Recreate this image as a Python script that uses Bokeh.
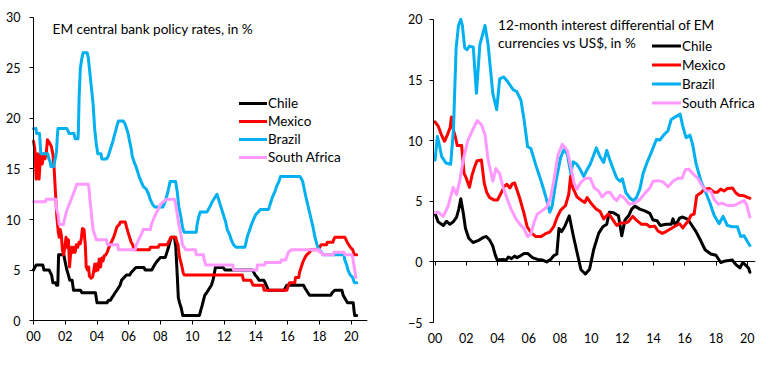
from bokeh.plotting import figure
from bokeh.models import (Range1d, FixedTicker, LinearAxis, Legend, LegendItem, Label)
from bokeh.layouts import row
from bokeh.embed import file_html
from bokeh.resources import INLINE

FONT = "Lato"

# ---------------- data ----------------
series_names = ["Chile", "Mexico", "Brazil", "South Africa"]
series_colors = ["#000000", "#FF0000", "#00B0F0", "#FF99FF"]

x_ticks = [2000, 2002, 2004, 2006, 2008, 2010, 2012, 2014, 2016, 2018, 2020]
x_tick_labels = ["00", "02", "04", "06", "08", "10", "12", "14", "16", "18", "20"]
left_y_ticks = [0, 5, 10, 15, 20, 25, 30]
right_y_ticks = [-5, 0, 5, 10, 15, 20]

left_title = "EM central bank policy rates, in %"
right_title_lines = ["12-month interest differential of EM", "currencies vs US$, in %"]

# Policy rates (year, %)
chile_policy = [
    (2000.00, 5.0), (2000.08, 5.25), (2000.17, 5.5), (2000.58, 5.5), (2000.66, 5.0), (2000.98, 5.0),
    (2001.06, 4.75), (2001.14, 4.5), (2001.22, 3.75), (2001.38, 3.75), (2001.45, 3.5), (2001.53, 3.5),
    (2001.58, 6.5), (2001.91, 6.5), (2002.0, 5.75), (2002.1, 5.0), (2002.2, 4.5), (2002.28, 4.0),
    (2002.43, 4.0), (2002.52, 3.0), (2002.96, 3.0), (2003.05, 2.75), (2003.9, 2.75), (2004.0, 1.75),
    (2004.62, 1.75), (2004.72, 2.0), (2004.85, 2.0), (2004.93, 2.25), (2005.04, 2.5), (2005.14, 2.75),
    (2005.25, 3.0), (2005.35, 3.25), (2005.45, 3.5), (2005.55, 4.0), (2005.7, 4.25), (2005.85, 4.5),
    (2006.05, 4.5), (2006.15, 4.75), (2006.3, 5.0), (2006.45, 5.25), (2006.95, 5.25), (2007.03, 5.0),
    (2007.45, 5.0), (2007.53, 5.25), (2007.62, 5.5), (2007.72, 5.75), (2007.85, 6.0), (2008.0, 6.25),
    (2008.3, 6.25), (2008.4, 6.75), (2008.5, 7.25), (2008.58, 7.75), (2008.68, 8.25), (2008.88, 8.25),
    (2008.96, 7.25), (2009.05, 4.5), (2009.12, 2.25), (2009.2, 1.75), (2009.3, 1.25), (2009.4, 0.5),
    (2010.45, 0.5), (2010.53, 1.0), (2010.62, 1.5), (2010.7, 2.0), (2010.78, 2.5), (2010.9, 2.75),
    (2011.0, 3.0), (2011.1, 3.25), (2011.2, 3.5), (2011.3, 4.0), (2011.37, 4.5), (2011.45, 5.25),
    (2011.95, 5.25), (2012.05, 5.0), (2013.8, 5.0), (2013.88, 4.75), (2013.96, 4.5), (2014.1, 4.25),
    (2014.2, 4.0), (2014.5, 4.0), (2014.58, 3.75), (2014.65, 3.5), (2014.72, 3.25), (2014.8, 3.0),
    (2015.78, 3.0), (2015.86, 3.25), (2015.95, 3.5), (2017.0, 3.5), (2017.08, 3.25), (2017.18, 3.0),
    (2017.28, 2.75), (2017.38, 2.5), (2018.72, 2.5), (2018.8, 2.75), (2018.98, 3.0), (2019.42, 3.0),
    (2019.5, 2.5), (2019.68, 2.0), (2019.77, 1.75), (2020.13, 1.75), (2020.18, 1.0), (2020.22, 0.5),
    (2020.35, 0.5),
]
mexico_policy = [
    (2000.0, 17.75), (2000.08, 17.0), (2000.17, 14.0), (2000.26, 16.5), (2000.35, 14.0), (2000.45, 16.5),
    (2000.55, 15.5), (2000.63, 16.5), (2000.72, 16.0), (2000.8, 16.5), (2000.88, 17.9), (2001.0, 17.6),
    (2001.12, 17.25), (2001.22, 16.5), (2001.3, 15.0), (2001.38, 12.75), (2001.47, 10.25), (2001.56, 8.75),
    (2001.62, 8.25), (2001.68, 9.0), (2001.75, 8.5), (2001.82, 7.0), (2001.9, 6.5), (2001.97, 7.25),
    (2002.05, 8.25), (2002.12, 7.25), (2002.2, 8.0), (2002.27, 5.3), (2002.33, 6.5), (2002.4, 7.25),
    (2002.48, 6.75), (2002.55, 7.25), (2002.62, 6.75), (2002.7, 7.5), (2002.78, 7.25), (2002.87, 7.75),
    (2002.95, 7.6), (2003.02, 8.25), (2003.08, 9.1), (2003.18, 9.0), (2003.26, 7.5), (2003.32, 5.3),
    (2003.4, 5.0), (2003.47, 5.3), (2003.52, 4.4), (2003.62, 4.2), (2003.72, 4.3), (2003.8, 5.0),
    (2003.86, 5.6), (2003.92, 4.9), (2004.0, 5.6), (2004.06, 5.0), (2004.14, 6.1), (2004.22, 5.3),
    (2004.3, 6.2), (2004.38, 5.9), (2004.45, 6.4), (2004.55, 6.5), (2004.65, 6.8), (2004.75, 7.25),
    (2004.9, 7.75), (2005.05, 8.25), (2005.15, 8.75), (2005.25, 9.25), (2005.4, 9.5), (2005.47, 9.75),
    (2005.78, 9.75), (2005.86, 9.25), (2005.95, 8.75), (2006.05, 8.25), (2006.15, 7.75), (2006.25, 7.5),
    (2006.33, 7.0), (2007.3, 7.0), (2007.36, 7.25), (2007.85, 7.25), (2007.92, 7.5), (2008.42, 7.5),
    (2008.5, 7.75), (2008.58, 8.0), (2008.65, 8.25), (2008.95, 8.25), (2009.03, 7.75), (2009.1, 7.5),
    (2009.15, 6.75), (2009.2, 6.25), (2009.28, 5.75), (2009.36, 5.25), (2009.42, 4.75), (2009.5, 4.5),
    (2013.15, 4.5), (2013.22, 4.0), (2013.68, 4.0), (2013.75, 3.75), (2013.82, 3.5), (2014.45, 3.5),
    (2014.52, 3.0), (2015.95, 3.0), (2016.0, 3.25), (2016.12, 3.75), (2016.45, 3.75), (2016.5, 4.25),
    (2016.7, 4.25), (2016.75, 4.75), (2016.85, 5.25), (2016.95, 5.75), (2017.1, 6.25), (2017.2, 6.5),
    (2017.38, 6.75), (2017.45, 7.0), (2017.95, 7.0), (2018.0, 7.25), (2018.12, 7.5), (2018.45, 7.5),
    (2018.5, 7.75), (2018.85, 7.75), (2018.9, 8.0), (2018.98, 8.25), (2019.6, 8.25), (2019.68, 8.0),
    (2019.75, 7.75), (2019.85, 7.5), (2019.95, 7.25), (2020.1, 7.0), (2020.2, 6.5), (2020.35, 6.5),
]
brazil_policy = [
    (2000.0, 19.0), (2000.15, 19.0), (2000.2, 18.5), (2000.38, 18.5), (2000.42, 17.5), (2000.46, 16.5),
    (2000.9, 16.5), (2000.97, 16.0), (2001.04, 15.75), (2001.1, 15.25), (2001.28, 15.25), (2001.33, 15.75),
    (2001.4, 16.25), (2001.45, 16.75), (2001.5, 18.25), (2001.54, 19.0), (2002.1, 19.0), (2002.18, 18.75),
    (2002.25, 18.5), (2002.55, 18.5), (2002.62, 18.0), (2002.8, 18.0), (2002.83, 19.0), (2002.87, 22.0),
    (2002.95, 25.0), (2003.05, 26.0), (2003.12, 26.5), (2003.38, 26.5), (2003.45, 26.0), (2003.6, 23.75),
    (2003.75, 21.5), (2003.85, 19.0), (2003.95, 17.5), (2004.05, 16.5), (2004.25, 16.5), (2004.3, 16.0),
    (2004.6, 16.0), (2004.7, 16.25), (2004.8, 16.75), (2004.9, 17.25), (2005.0, 17.75), (2005.08, 18.25),
    (2005.17, 18.75), (2005.25, 19.25), (2005.35, 19.75), (2005.65, 19.75), (2005.75, 19.5), (2005.86, 19.0),
    (2005.96, 18.5), (2006.05, 17.75), (2006.15, 17.0), (2006.22, 16.25), (2006.32, 15.75), (2006.45, 15.25),
    (2006.55, 14.75), (2006.65, 14.25), (2006.78, 13.75), (2006.92, 13.25), (2007.1, 13.0), (2007.25, 12.5),
    (2007.35, 12.0), (2007.5, 11.5), (2007.62, 11.25), (2008.15, 11.25), (2008.28, 11.75), (2008.38, 12.25),
    (2008.5, 13.0), (2008.6, 13.75), (2008.95, 13.75), (2009.05, 12.75), (2009.15, 11.25), (2009.28, 10.25),
    (2009.38, 9.25), (2009.48, 8.75), (2010.25, 8.75), (2010.3, 9.5), (2010.4, 10.25), (2010.5, 10.75),
    (2010.92, 10.75), (2011.1, 11.25), (2011.25, 11.75), (2011.35, 12.0), (2011.45, 12.25), (2011.55, 12.5),
    (2011.65, 12.0), (2011.75, 11.5), (2011.85, 11.0), (2011.95, 10.5), (2012.1, 9.75), (2012.2, 9.0),
    (2012.35, 8.5), (2012.45, 8.0), (2012.6, 7.5), (2012.75, 7.25), (2013.3, 7.25), (2013.35, 7.5),
    (2013.42, 8.0), (2013.5, 8.5), (2013.62, 9.0), (2013.72, 9.5), (2013.85, 10.0), (2014.0, 10.5),
    (2014.15, 10.75), (2014.3, 11.0), (2014.8, 11.0), (2014.85, 11.25), (2014.95, 11.75), (2015.05, 12.25),
    (2015.2, 12.75), (2015.3, 13.25), (2015.45, 13.75), (2015.55, 14.25), (2016.78, 14.25), (2016.88, 14.0),
    (2016.95, 13.75), (2017.05, 13.0), (2017.15, 12.25), (2017.3, 11.25), (2017.45, 10.25), (2017.6, 9.25),
    (2017.72, 8.25), (2017.85, 7.5), (2017.97, 7.0), (2018.15, 6.75), (2018.22, 6.5), (2019.55, 6.5),
    (2019.6, 6.0), (2019.72, 5.5), (2019.8, 5.0), (2019.95, 4.5), (2020.1, 4.25), (2020.2, 3.75),
    (2020.35, 3.75),
]
southafrica_policy = [
    (2000.0, 11.75), (2000.75, 11.75), (2000.8, 12.0), (2001.4, 12.0), (2001.46, 11.0), (2001.55, 10.5),
    (2001.62, 9.5), (2001.88, 9.5), (2001.95, 10.0), (2002.03, 10.5), (2002.12, 11.0), (2002.25, 11.5),
    (2002.38, 12.0), (2002.5, 12.5), (2002.62, 13.0), (2002.72, 13.5), (2003.45, 13.5), (2003.5, 13.0),
    (2003.55, 12.0), (2003.62, 11.0), (2003.68, 10.0), (2003.75, 9.0), (2003.85, 8.5), (2003.95, 8.0),
    (2004.6, 8.0), (2004.65, 7.5), (2005.3, 7.5), (2005.35, 7.0), (2006.4, 7.0), (2006.48, 7.5),
    (2006.62, 8.0), (2006.78, 8.5), (2006.9, 9.0), (2007.35, 9.0), (2007.42, 9.5), (2007.55, 10.0),
    (2007.68, 10.5), (2007.85, 11.0), (2008.0, 11.5), (2008.35, 12.0), (2008.88, 12.0), (2008.95, 11.5),
    (2009.05, 10.5), (2009.15, 9.5), (2009.28, 8.5), (2009.38, 7.5), (2009.6, 7.0), (2010.2, 7.0),
    (2010.25, 6.5), (2010.7, 6.5), (2010.75, 6.0), (2010.85, 5.5), (2012.55, 5.5), (2012.6, 5.0),
    (2014.05, 5.0), (2014.1, 5.5), (2014.55, 5.5), (2014.6, 5.75), (2015.55, 5.75), (2015.6, 6.0),
    (2015.88, 6.0), (2015.93, 6.25), (2016.05, 6.75), (2016.22, 7.0), (2017.97, 7.0), (2018.03, 6.75),
    (2018.15, 6.75), (2018.2, 6.5), (2018.88, 6.5), (2018.92, 6.75), (2019.55, 6.75), (2019.6, 6.5),
    (2020.05, 6.5), (2020.1, 6.25), (2020.2, 5.25), (2020.3, 4.25),
]

# 12-month interest differential vs US$ (year, %)
chile_diff = [
    (2000.0, 4.0), (2000.2, 3.3), (2000.53, 3.0), (2000.74, 3.35), (2000.95, 3.1), (2001.16, 3.3),
    (2001.38, 3.7), (2001.52, 4.35), (2001.65, 5.2), (2001.8, 4.1), (2001.95, 2.75), (2002.16, 1.95),
    (2002.43, 1.6), (2002.75, 1.75), (2003.07, 2.0), (2003.28, 2.1), (2003.5, 1.8), (2003.7, 1.3),
    (2003.85, 0.6), (2003.98, 0.15), (2004.34, 0.2), (2004.55, 0.15), (2004.7, 0.4), (2004.9, 0.27),
    (2005.1, 0.48), (2005.25, 0.35), (2005.4, 0.45), (2005.7, 0.7), (2005.93, 0.7), (2006.24, 0.35),
    (2006.56, 0.2), (2006.88, 0.15), (2007.15, 0.0), (2007.4, 0.2), (2007.6, 0.5), (2007.8, 0.65),
    (2007.94, 2.75), (2008.1, 2.5), (2008.3, 2.9), (2008.6, 3.8), (2008.85, 2.2), (2009.1, 0.75),
    (2009.35, -0.65), (2009.63, -1.0), (2009.9, -0.6), (2010.16, 1.0), (2010.48, 2.35), (2010.75, 2.9),
    (2011.0, 3.1), (2011.17, 4.1), (2011.43, 4.05), (2011.75, 3.8), (2011.96, 2.15), (2012.17, 3.45),
    (2012.4, 3.8), (2012.6, 4.35), (2012.8, 4.6), (2013.12, 4.35), (2013.44, 4.2), (2013.76, 4.0),
    (2013.97, 3.45), (2014.22, 3.4), (2014.43, 3.0), (2014.8, 3.1), (2015.13, 3.1), (2015.24, 3.55),
    (2015.4, 3.0), (2015.66, 3.6), (2015.87, 3.7), (2016.2, 3.5), (2016.46, 3.0), (2016.72, 2.5),
    (2017.04, 1.7), (2017.3, 1.0), (2017.67, 0.65), (2018.0, 0.55), (2018.3, -0.05), (2018.6, 0.08),
    (2019.05, 0.15), (2019.26, -0.2), (2019.53, -0.5), (2019.72, -0.05), (2019.93, -0.3), (2020.1, -0.55),
    (2020.17, -0.85),
]
mexico_diff = [
    (2000.0, 11.55), (2000.2, 11.2), (2000.4, 10.5), (2000.6, 9.95), (2000.8, 10.5), (2000.97, 11.1),
    (2001.05, 11.95), (2001.15, 11.0), (2001.3, 10.3), (2001.42, 9.6), (2001.7, 9.6), (2001.86, 7.3),
    (2002.0, 6.9), (2002.2, 6.15), (2002.38, 7.2), (2002.55, 7.9), (2002.7, 8.35), (2002.97, 8.4),
    (2003.15, 6.5), (2003.32, 5.7), (2003.5, 5.3), (2003.8, 5.1), (2004.0, 5.1), (2004.2, 5.6),
    (2004.45, 6.25), (2004.6, 6.4), (2004.8, 6.1), (2004.95, 6.45), (2005.1, 6.5), (2005.4, 5.35),
    (2005.7, 4.0), (2005.9, 2.9), (2006.16, 2.4), (2006.44, 2.1), (2006.8, 2.1), (2007.1, 2.35),
    (2007.35, 2.45), (2007.6, 2.9), (2007.83, 3.7), (2008.04, 4.25), (2008.36, 4.65), (2008.57, 5.6),
    (2008.68, 7.05), (2008.83, 6.1), (2009.1, 5.35), (2009.4, 5.05), (2009.6, 4.9), (2009.74, 5.3),
    (2010.05, 4.75), (2010.33, 4.35), (2010.58, 4.15), (2010.8, 3.55), (2011.1, 3.95), (2011.2, 3.85),
    (2011.43, 3.4), (2011.64, 3.0), (2011.85, 3.2), (2012.17, 3.2), (2012.38, 3.3), (2012.66, 3.75),
    (2012.9, 3.45), (2013.23, 3.1), (2013.55, 3.1), (2013.76, 2.9), (2014.07, 2.95), (2014.28, 2.55),
    (2014.56, 2.35), (2014.8, 2.5), (2015.13, 2.75), (2015.45, 3.0), (2015.66, 3.15), (2015.87, 2.8),
    (2016.2, 3.35), (2016.4, 3.85), (2016.6, 3.95), (2016.76, 5.45), (2017.04, 5.7), (2017.25, 6.0),
    (2017.57, 6.05), (2017.88, 5.75), (2018.1, 5.75), (2018.3, 6.0), (2018.52, 5.85), (2018.73, 6.05),
    (2019.05, 6.1), (2019.26, 5.7), (2019.47, 5.5), (2019.8, 5.45), (2020.06, 5.3), (2020.17, 5.25),
]
brazil_diff = [
    (2000.0, 8.4), (2000.15, 10.35), (2000.3, 9.5), (2000.42, 8.7), (2000.7, 8.15), (2001.0, 8.05),
    (2001.18, 10.95), (2001.35, 17.65), (2001.5, 19.5), (2001.65, 20.0), (2001.75, 19.5), (2001.9, 17.65),
    (2002.05, 17.5), (2002.2, 17.8), (2002.45, 17.7), (2002.65, 13.9), (2002.87, 17.9), (2003.2, 19.5),
    (2003.4, 17.9), (2003.7, 13.9), (2003.95, 12.55), (2004.14, 15.1), (2004.4, 15.25), (2004.66, 14.85),
    (2005.0, 14.2), (2005.23, 14.05), (2005.5, 13.35), (2005.7, 11.75), (2005.93, 9.5), (2006.14, 9.35),
    (2006.45, 8.0), (2006.8, 6.65), (2007.1, 5.35), (2007.35, 4.1), (2007.5, 4.6), (2007.75, 6.65),
    (2008.04, 8.6), (2008.25, 9.25), (2008.47, 8.9), (2008.7, 7.3), (2008.85, 8.25), (2009.05, 8.1),
    (2009.27, 7.7), (2009.52, 7.05), (2009.74, 7.6), (2009.95, 8.1), (2010.16, 8.8), (2010.33, 9.4),
    (2010.58, 8.65), (2010.8, 8.2), (2011.0, 9.2), (2011.2, 8.4), (2011.43, 7.6), (2011.64, 6.9),
    (2011.85, 6.65), (2012.0, 6.85), (2012.23, 5.7), (2012.5, 5.25), (2012.7, 5.05), (2012.9, 5.3),
    (2013.12, 6.0), (2013.33, 7.3), (2013.6, 8.25), (2013.86, 9.05), (2014.18, 10.1), (2014.4, 10.05),
    (2014.67, 10.5), (2014.92, 10.8), (2015.13, 11.75), (2015.45, 12.0), (2015.7, 12.2), (2015.87, 11.2),
    (2016.08, 10.25), (2016.33, 10.45), (2016.5, 9.7), (2016.72, 8.1), (2017.04, 6.65), (2017.35, 5.7),
    (2017.6, 4.9), (2017.88, 3.85), (2018.2, 3.15), (2018.45, 3.75), (2018.73, 3.0), (2019.05, 2.9),
    (2019.37, 2.9), (2019.58, 2.1), (2019.8, 2.15), (2020.0, 1.7), (2020.17, 1.35),
]
southafrica_diff = [
    (2000.0, 4.05), (2000.2, 4.1), (2000.53, 3.75), (2000.85, 4.65), (2001.16, 6.15), (2001.38, 5.55),
    (2001.6, 6.8), (2001.8, 8.4), (2002.1, 10.0), (2002.43, 10.95), (2002.7, 11.65), (2002.96, 11.35),
    (2003.2, 10.5), (2003.4, 8.4), (2003.7, 6.65), (2003.9, 7.7), (2004.13, 7.3), (2004.34, 6.25),
    (2004.55, 5.45), (2004.87, 4.35), (2005.2, 3.5), (2005.5, 3.0), (2005.7, 2.75), (2005.93, 2.1),
    (2006.14, 2.3), (2006.35, 3.3), (2006.56, 3.95), (2006.88, 4.25), (2007.15, 4.5), (2007.4, 5.3),
    (2007.6, 6.65), (2007.87, 8.8), (2008.15, 9.7), (2008.47, 9.2), (2008.7, 7.85), (2008.9, 6.5),
    (2009.1, 6.0), (2009.3, 6.5), (2009.63, 6.9), (2009.95, 6.9), (2010.2, 6.1), (2010.48, 5.85),
    (2010.7, 5.35), (2010.96, 5.7), (2011.2, 5.75), (2011.43, 5.3), (2011.64, 5.05), (2011.85, 5.5),
    (2012.1, 5.3), (2012.45, 4.75), (2012.8, 4.85), (2013.12, 5.15), (2013.44, 5.65), (2013.76, 6.1),
    (2013.97, 6.65), (2014.28, 6.7), (2014.6, 6.6), (2014.92, 6.2), (2015.24, 6.65), (2015.56, 6.9),
    (2015.83, 6.9), (2016.04, 7.6), (2016.25, 7.65), (2016.5, 7.3), (2016.83, 6.9), (2017.1, 6.3),
    (2017.35, 5.85), (2017.67, 5.85), (2017.88, 5.15), (2018.16, 4.75), (2018.4, 4.85), (2018.73, 4.65),
    (2019.15, 4.65), (2019.47, 4.85), (2019.8, 5.05), (2019.96, 4.75), (2020.17, 3.7),
]

policy_series = [chile_policy, mexico_policy, brazil_policy, southafrica_policy]
diff_series = [chile_diff, mexico_diff, brazil_diff, southafrica_diff]


def label_axis(ax, ticks, labels=None, standoff=6):
    """Axis that only carries the tick labels (no line, no tick marks)."""
    ax.ticker = FixedTicker(ticks=ticks)
    if labels is not None:
        ax.major_label_overrides = {t: s for t, s in zip(ticks, labels)}
    ax.axis_line_color = None
    ax.major_tick_line_color = None
    ax.minor_tick_line_color = None
    ax.major_tick_out = 0
    ax.major_tick_in = 0
    ax.major_label_standoff = standoff
    ax.major_label_text_font = FONT
    ax.major_label_text_font_size = "12.5px"
    ax.major_label_text_color = "black"


def line_axis(p, side, loc, ticks, bounds):
    """Axis line + outward tick marks, anchored at a data location inside the frame."""
    ax = LinearAxis(fixed_location=loc, ticker=FixedTicker(ticks=ticks), bounds=bounds)
    ax.major_label_overrides = {t: "" for t in ticks}
    ax.axis_line_color = "black"
    ax.axis_line_width = 1
    ax.major_tick_line_color = "black"
    ax.major_tick_out = 4
    ax.major_tick_in = 0
    ax.minor_tick_line_color = None
    p.add_layout(ax, side)


def base_fig(width, xr, yr, borders):
    p = figure(width=width, height=349, output_backend="svg", toolbar_location=None,
               x_range=Range1d(xr[0], xr[1]), y_range=Range1d(yr[0], yr[1]),
               min_border_left=borders[0], min_border_right=borders[1],
               min_border_top=borders[2], min_border_bottom=borders[3])
    p.outline_line_color = None
    p.xgrid.visible = False
    p.ygrid.visible = False
    return p


def add_lines(p, series_list):
    items = []
    for data, name, color in zip(series_list, series_names, series_colors):
        xs = [d[0] for d in data]
        ys = [d[1] for d in data]
        r = p.line(xs, ys, line_color=color, line_width=3, line_join="round", line_cap="round")
        items.append(LegendItem(label=name, renderers=[r]))
    return items


def add_legend(p, items, loc, row_h, glyph_w):
    lg = Legend(items=items, location=loc, orientation="vertical",
                glyph_width=glyph_w, glyph_height=row_h, label_height=row_h,
                label_standoff=1, spacing=0, padding=0, margin=0,
                label_text_font=FONT, label_text_font_size="13.5px", label_text_color="black",
                border_line_color=None, background_fill_color="white", background_fill_alpha=1.0)
    p.add_layout(lg, "center")


# ---------------- left chart ----------------
# frame: x 28..367 (2000 at 33), y 7..329 (30 at 17, 0 at 324)
p1 = base_fig(388, (1999.685, 2021.03), (-0.489, 30.98), (28, 21, 7, 20))
label_axis(p1.xaxis[0], x_ticks, x_tick_labels, standoff=5)
label_axis(p1.yaxis[0], left_y_ticks, standoff=8)
items1 = add_lines(p1, policy_series)
line_axis(p1, "left", 2000, left_y_ticks, (0, 30))
line_axis(p1, "below", 0, x_ticks, (2000, 2021.03))
add_legend(p1, items1, (211, 159), 18, 28)
p1.add_layout(Label(x=2001.2, y=28.9, text=left_title, text_font=FONT, text_font_size="13.6px",
                    text_color="black", text_baseline="alphabetic"))

# ---------------- right chart ----------------
# frame: x 428..755 (axis at 433), y 5..325 (20 at 17, -5 at 322)
p2 = base_fig(368, (1999.58, 2020.53), (-5.246, 20.98), (40, 1, 5, 24))
label_axis(p2.xaxis[0], x_ticks, x_tick_labels, standoff=7)
label_axis(p2.yaxis[0], right_y_ticks, standoff=6)
items2 = add_lines(p2, diff_series)
line_axis(p2, "left", 1999.9, right_y_ticks, (-5, 20))
line_axis(p2, "below", 0, x_ticks, (1999.9, 2020.53))
add_legend(p2, items2, (224, 213), 19, 29)
p2.add_layout(Label(x=2004.04, y=19.53, text=right_title_lines[0], text_font=FONT, text_font_size="13.6px",
                    text_color="black", text_baseline="alphabetic"))
p2.add_layout(Label(x=2004.04, y=18.06, text=right_title_lines[1], text_font=FONT, text_font_size="13.6px",
                    text_color="black", text_baseline="alphabetic"))

layout = row(p1, p2)

open("out.html", "w").write(file_html(layout, INLINE))
